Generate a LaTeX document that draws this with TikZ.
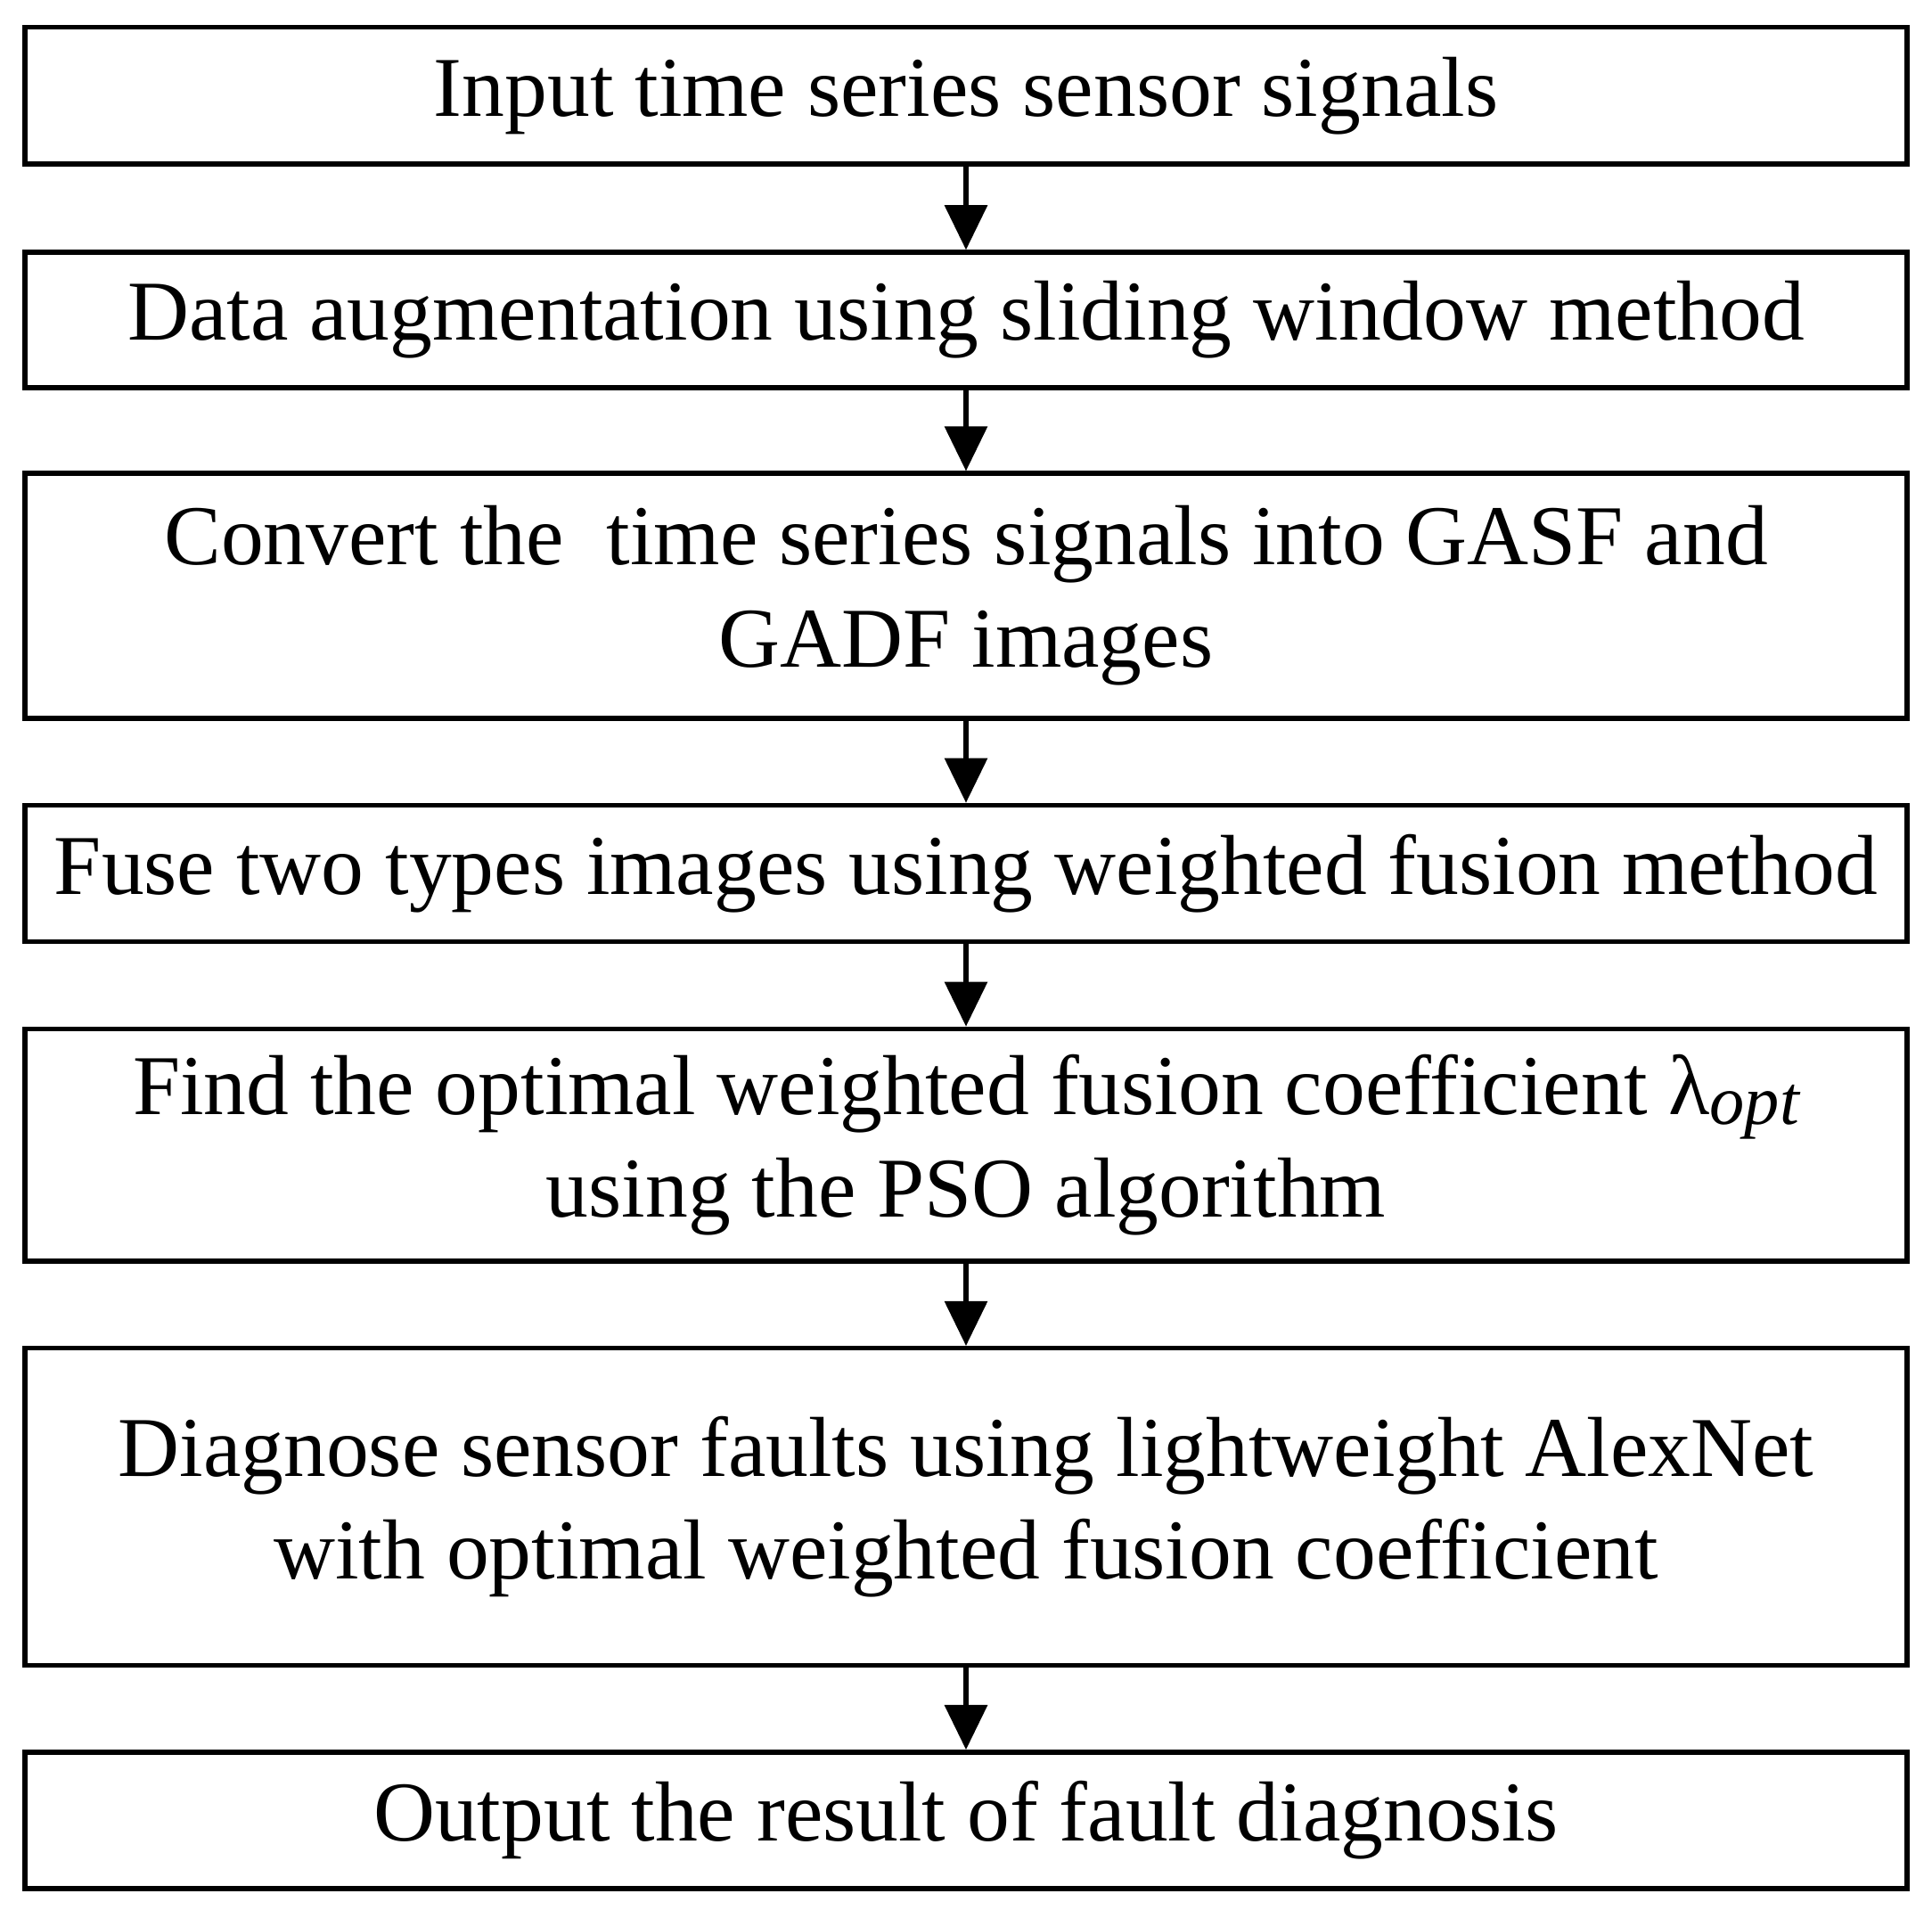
\documentclass[tikz,border=0pt]{standalone}
\usepackage{fontspec}
\setmainfont{Liberation Serif}
\usetikzlibrary{arrows.meta}
\begin{document}
\begin{tikzpicture}[
  box/.style={draw,line width=1.1pt,minimum width=15.15cm,align=center,inner sep=0pt,
    font=\fontsize{19.5}{23.5}\selectfont},
  arr/.style={line width=1.1pt,-{Triangle[width=0.34cm,length=0.36cm]}}]
\useasboundingbox (0,0) rectangle (15.55,-15.37);
\node[box,minimum height=1.10cm] (b1) at (7.775,-0.77) {Input time series sensor signals};
\node[box,minimum height=1.09cm] (b2) at (7.775,-2.575) {Data augmentation using sliding window method};
\node[box,minimum height=1.97cm] (b3) at (7.775,-4.795) {Convert the \ time series signals into GASF and\\GADF images};
\node[box,minimum height=1.10cm] (b4) at (7.775,-7.03) {Fuse two types images using weighted fusion method};
\node[box,minimum height=1.87cm] (b5) at (7.775,-9.215) {Find the optimal weighted fusion coefficient λ\raisebox{-0.12em}{\fontsize{16}{18}\selectfont\itshape opt}\\using the PSO algorithm};
\node[box,minimum height=2.55cm] (b6) at (7.775,-12.125) {Diagnose sensor faults using lightweight AlexNet\\with optimal weighted fusion coefficient};
\node[box,minimum height=1.10cm] (b7) at (7.775,-14.65) {Output the result of fault diagnosis};
\foreach \a/\b in {b1/b2,b2/b3,b3/b4,b4/b5,b5/b6,b6/b7}
  \draw[arr] (\a) -- (\b);
\end{tikzpicture}
\end{document}
